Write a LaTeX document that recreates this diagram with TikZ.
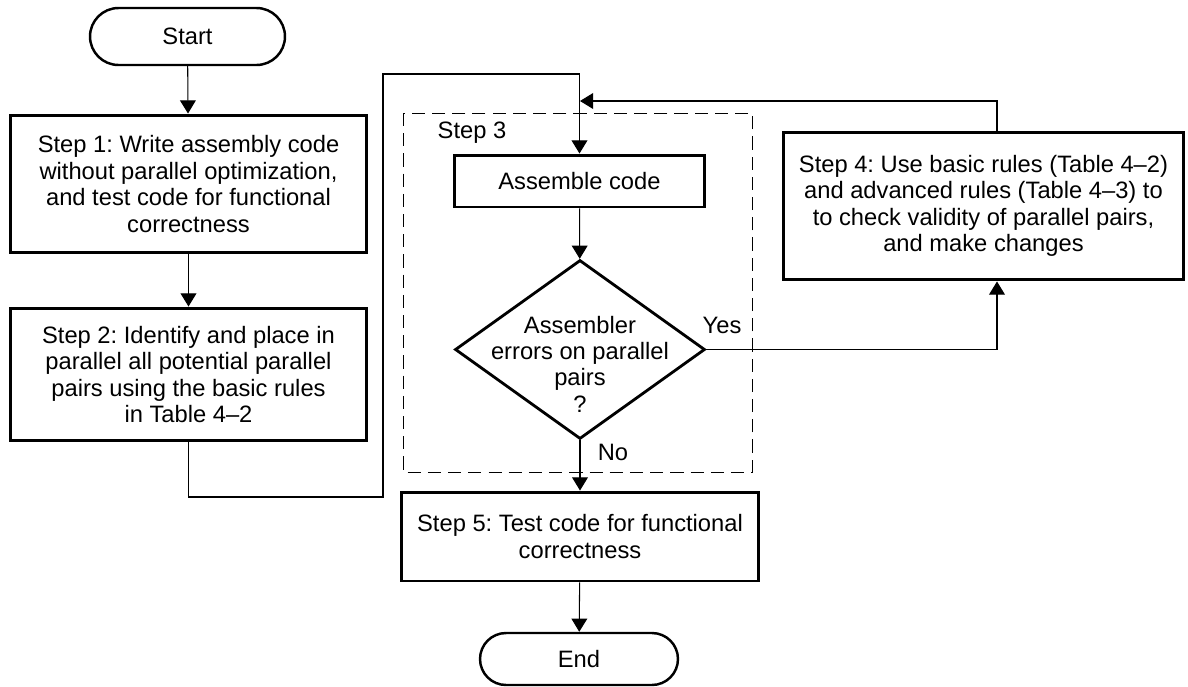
\documentclass[tikz,border=0pt]{standalone}
\usepackage{fontspec}
\setmainfont{Liberation Sans}
\frenchspacing
\usetikzlibrary{arrows.meta,shapes.geometric,shapes.misc}

\tikzset{
  stepbox/.style={draw,line width=1.7pt,align=center,inner sep=0pt},
  termbox/.style={draw,rounded rectangle,line width=1.4pt,inner sep=0pt},
  decbox/.style={draw,diamond,line width=1.6pt,inner sep=0pt},
  flow/.style={line width=0.6pt,-{Triangle[width=9pt,length=7.5pt]}},
}

\begin{document}
\begin{tikzpicture}[x=0.02cm,y=-0.02cm,font=\fontsize{13.5}{15}\selectfont]

% ---------- canvas (pixels of the source, y downwards) ----------
\useasboundingbox (0,0) rectangle (1188,687);

% ---------- left column ----------
\node[termbox,minimum width=3.9cm,minimum height=1.14cm] (start) at (187.5,36.5) {Start};
\node[stepbox,minimum width=7.14cm,minimum height=2.76cm] (step1) at (188.5,184)
  {Step 1: Write assembly code\\without parallel optimization,\\and test code for functional\\correctness};
\node[stepbox,minimum width=7.14cm,minimum height=2.66cm] (step2) at (188.5,374.5)
  {Step 2: Identify and place in\\parallel all potential parallel\\pairs using the basic rules\\in Table 4\textendash 2};

% ---------- step 3 (dashed group) ----------
\draw[dashed,dash pattern=on 7.5pt off 4pt,line width=0.5pt] (403,113) rectangle (752,472);
\node (steplbl) at (472,133) {Step 3};
\node[stepbox,minimum width=5.02cm,minimum height=1.04cm] (asm) at (579.5,181) {Assemble code};
\node[decbox,minimum width=5.0cm,minimum height=3.58cm] (dec) at (580,349.5) {};
\node[align=center] (dectxt) at (580,364) {Assembler\\errors on parallel\\pairs\\?};

% ---------- right column ----------
\node[stepbox,minimum width=8.02cm,minimum height=2.96cm] (step4) at (983.5,206)
  {Step 4: Use basic rules (Table 4\textendash 2)\\and advanced rules (Table 4\textendash 3) to\\to check validity of parallel pairs,\\and make changes};

% ---------- bottom ----------
\node[stepbox,minimum width=7.16cm,minimum height=1.78cm] (step5) at (580,536.5)
  {Step 5: Test code for functional\\correctness};
\node[termbox,minimum width=3.96cm,minimum height=1.04cm] (end) at (579,659) {End};

% ---------- branch labels ----------
\node (yes) at (722,325) {Yes};
\node (no) at (613,452) {No};

% ---------- bends ----------
\coordinate (bendA) at (383,497);
\coordinate (bendB) at (383,74);
\coordinate (fb) at (997,101);
\coordinate (join) at (580,101);

% ---------- connectors ----------
\draw[flow] (start) -- (step1);
\draw[flow] (step1) -- (step2);
\draw[flow] (step2.south) |- (bendA) -- (bendB) -| (asm.north);
\draw[flow] (asm) -- (dec);
\draw[flow] (dec.east) -| (fb |- step4.south);
\draw[flow] (fb |- step4.north) -- (fb) -- (join);
\draw[flow] (dec) -- (step5);
\draw[flow] (step5) -- (end);

\end{tikzpicture}
\end{document}
